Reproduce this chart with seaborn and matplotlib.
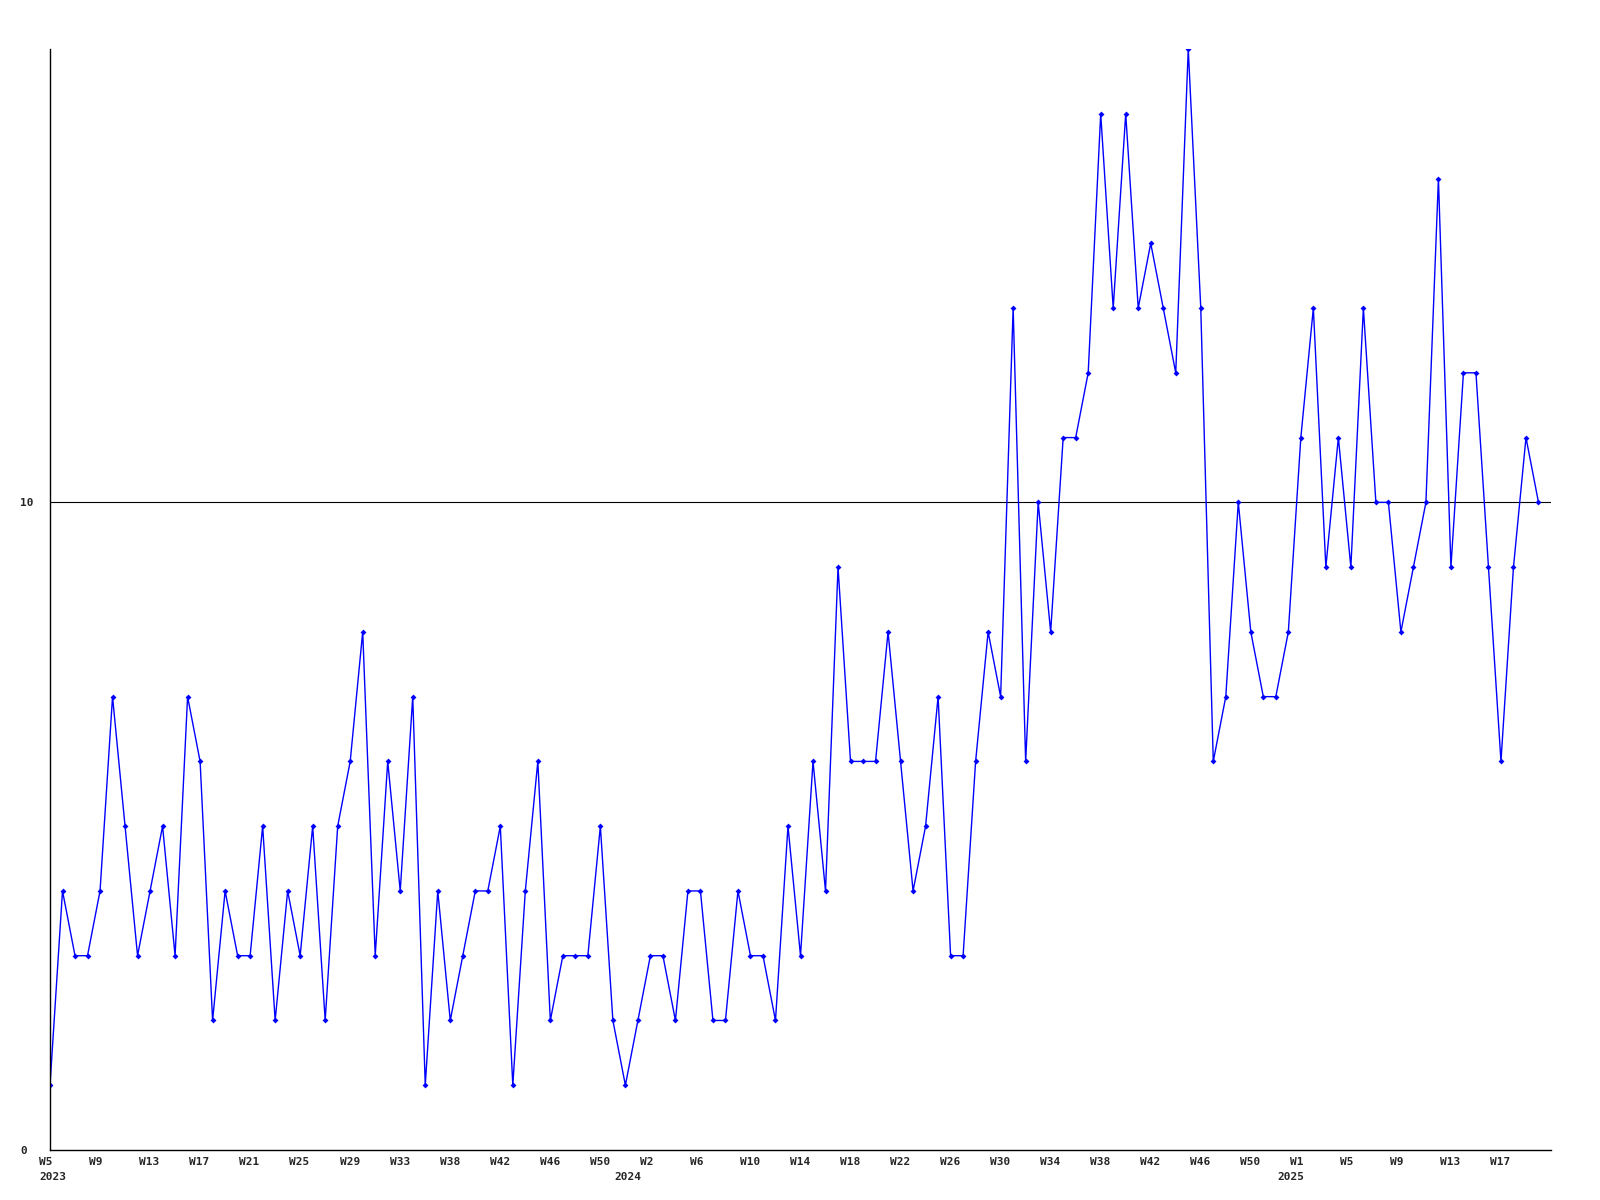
import pandas as pd
import matplotlib
matplotlib.use('Agg')
import matplotlib.pyplot as plt
import matplotlib.transforms as mtransforms
import seaborn as sns

# =============================
# Data (weekly counts, 2023 W5 -> 2025 W20)
# =============================
values = [
    1, 4, 3, 3, 4, 7, 5, 3, 4, 5, 3, 7, 6, 2, 4, 3, 3, 5, 2, 4,
    3, 5, 2, 5, 6, 8, 3, 6, 4, 7, 1, 4, 2, 3, 4, 4, 5, 1, 4, 6,
    2, 3, 3, 3, 5, 2, 1, 2, 3, 3, 2, 4, 4, 2, 2, 4, 3, 3, 2, 5,
    3, 6, 4, 9, 6, 6, 6, 8, 6, 4, 5, 7, 3, 3, 6, 8, 7, 13, 6, 10,
    8, 11, 11, 12, 16, 13, 16, 13, 14, 13, 12, 17, 13, 6, 7, 10, 8, 7, 7, 8,
    11, 13, 9, 11, 9, 13, 10, 10, 8, 9, 10, 15, 9, 12, 12, 9, 6, 9, 11, 10,
]

week_labels = [
    'W5', 'W9', 'W13', 'W17', 'W21', 'W25', 'W29', 'W33', 'W38', 'W42',
    'W46', 'W50', 'W2', 'W6', 'W10', 'W14', 'W18', 'W22', 'W26', 'W30',
    'W34', 'W38', 'W42', 'W46', 'W50', 'W1', 'W5', 'W9', 'W13', 'W17',
]
week_ticks = list(range(0, 4 * len(week_labels), 4))

year_labels = ['2023', '2024', '2025']
year_ticks = [0, 46, 99]

y_ticks = [0, 10]

df = pd.DataFrame({'idx': range(len(values)), 'value': values})

# =============================
# Plot
# =============================
sns.set_style('white')
plt.rcParams['font.family'] = ['DejaVu Sans Mono']

fig = plt.figure(figsize=(16, 12), dpi=100)
ax = fig.add_axes([50 / 1600, 50 / 1200, 1501 / 1600, 1101 / 1200])

ax.axhline(10, color='black', lw=0.8, zorder=1)
sns.lineplot(x='idx', y='value', data=df, color='#0000ff', lw=1.0,
             marker='D', markersize=3, markeredgewidth=0, ax=ax, zorder=2)

ax.set_xlim(0, 120)
ax.set_ylim(0, 17)
ax.set_xlabel('')
ax.set_ylabel('')

for side in ['top', 'right']:
    ax.spines[side].set_visible(False)
for side in ['left', 'bottom']:
    ax.spines[side].set_color('black')
    ax.spines[side].set_linewidth(1.0)

# x tick labels: left aligned, shifted slightly left of the point
ax.set_xticks(week_ticks)
ax.set_xticklabels(week_labels, fontsize=8, fontweight='bold')
ax.tick_params(axis='x', length=0, pad=5)
shift = mtransforms.ScaledTranslation(-10.7 / 100, 0, fig.dpi_scale_trans)
for lab in ax.get_xticklabels():
    lab.set_horizontalalignment('left')
    lab.set_transform(lab.get_transform() + shift)

# year labels under the week labels
year_shift = mtransforms.ScaledTranslation(-10.7 / 100, -27 / 100, fig.dpi_scale_trans)
for pos, txt in zip(year_ticks, year_labels):
    ax.text(pos, 0, txt, fontsize=8, fontweight='bold', ha='left', va='center',
            transform=ax.get_xaxis_transform() + year_shift, clip_on=False)

# y tick labels: left aligned near the figure edge
ax.set_yticks(y_ticks)
ax.set_yticklabels([str(v) for v in y_ticks], fontsize=8, fontweight='bold')
ax.tick_params(axis='y', length=0, pad=21.6)
for lab in ax.get_yticklabels():
    lab.set_horizontalalignment('left')

plt.savefig('out.png', dpi=100)
